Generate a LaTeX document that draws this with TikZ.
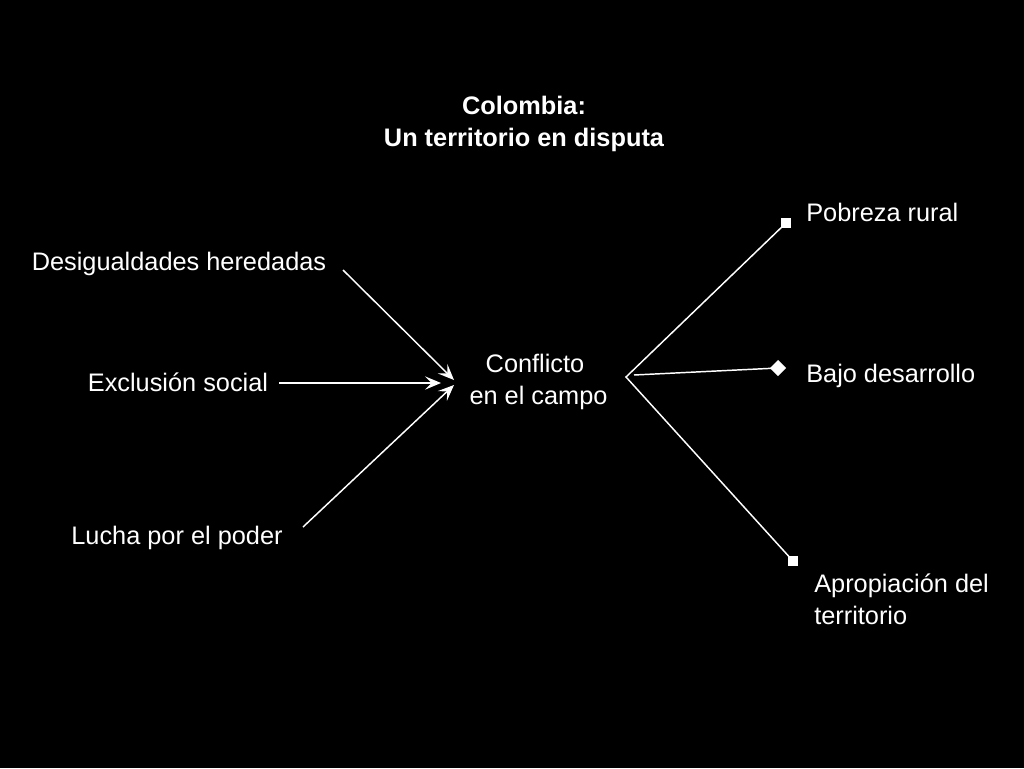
\documentclass[tikz,border=0pt]{standalone}
\usepackage{fontspec}
\setmainfont{Liberation Sans}
\usetikzlibrary{arrows.meta}
\begin{document}
\begin{tikzpicture}[x=0.75pt,y=-0.75pt,
  lbl/.style={text=white,font=\fontsize{19}{24}\selectfont,inner sep=0pt},
  conn/.style={white,line width=1.1pt},
  arr/.style={conn,-{Stealth[length=12pt,width=10pt,inset=5pt]}},
  sq/.style={fill=white,draw=none,minimum size=8pt,inner sep=0pt},
  dm/.style={fill=white,draw=none,minimum size=8.5pt,inner sep=0pt,rotate=45}]
\fill[black] (0,0) rectangle (1024,768);
\useasboundingbox (0,0) rectangle (1024,768);
\node[lbl,font=\fontsize{19}{24}\selectfont\bfseries,align=center] (title) at (524,124) {Colombia:\\Un territorio en disputa};
\node[lbl] (des) at (179,264) {Desigualdades heredadas};
\node[lbl] (exc) at (178,382) {Exclusión social};
\node[lbl] (luc) at (177,538) {Lucha por el poder};
\node[lbl,align=center] (con) at (535,382) {Conflicto\\\ en el campo};
\node[lbl,anchor=west] (pob) at (806,212) {Pobreza rural};
\node[lbl,anchor=west] (baj) at (806,376) {Bajo desarrollo};
\node[lbl,anchor=west,align=left] (apr) at (814,599) {Apropiación del\\territorio};
\coordinate (d1) at (343,270);
\coordinate (e1) at (279,383);
\coordinate (l1) at (303,527);
\coordinate (t1) at (454,380);
\coordinate (t2) at (441,383);
\coordinate (t3) at (454,385);
\coordinate (apex) at (626,377);
\coordinate (mid) at (634,375);
\node[sq] (mp) at (786,223) {};
\node[dm] (mb) at (778,368) {};
\node[sq] (ma) at (793,561) {};
\draw[arr] (d1) -- (t1);
\draw[arr] (e1) -- (t2);
\draw[arr] (l1) -- (t3);
\draw[conn] (mp.center) -- (apex) -- (ma.center);
\draw[conn] (mid) -- (mb.center);
\end{tikzpicture}
\end{document}
